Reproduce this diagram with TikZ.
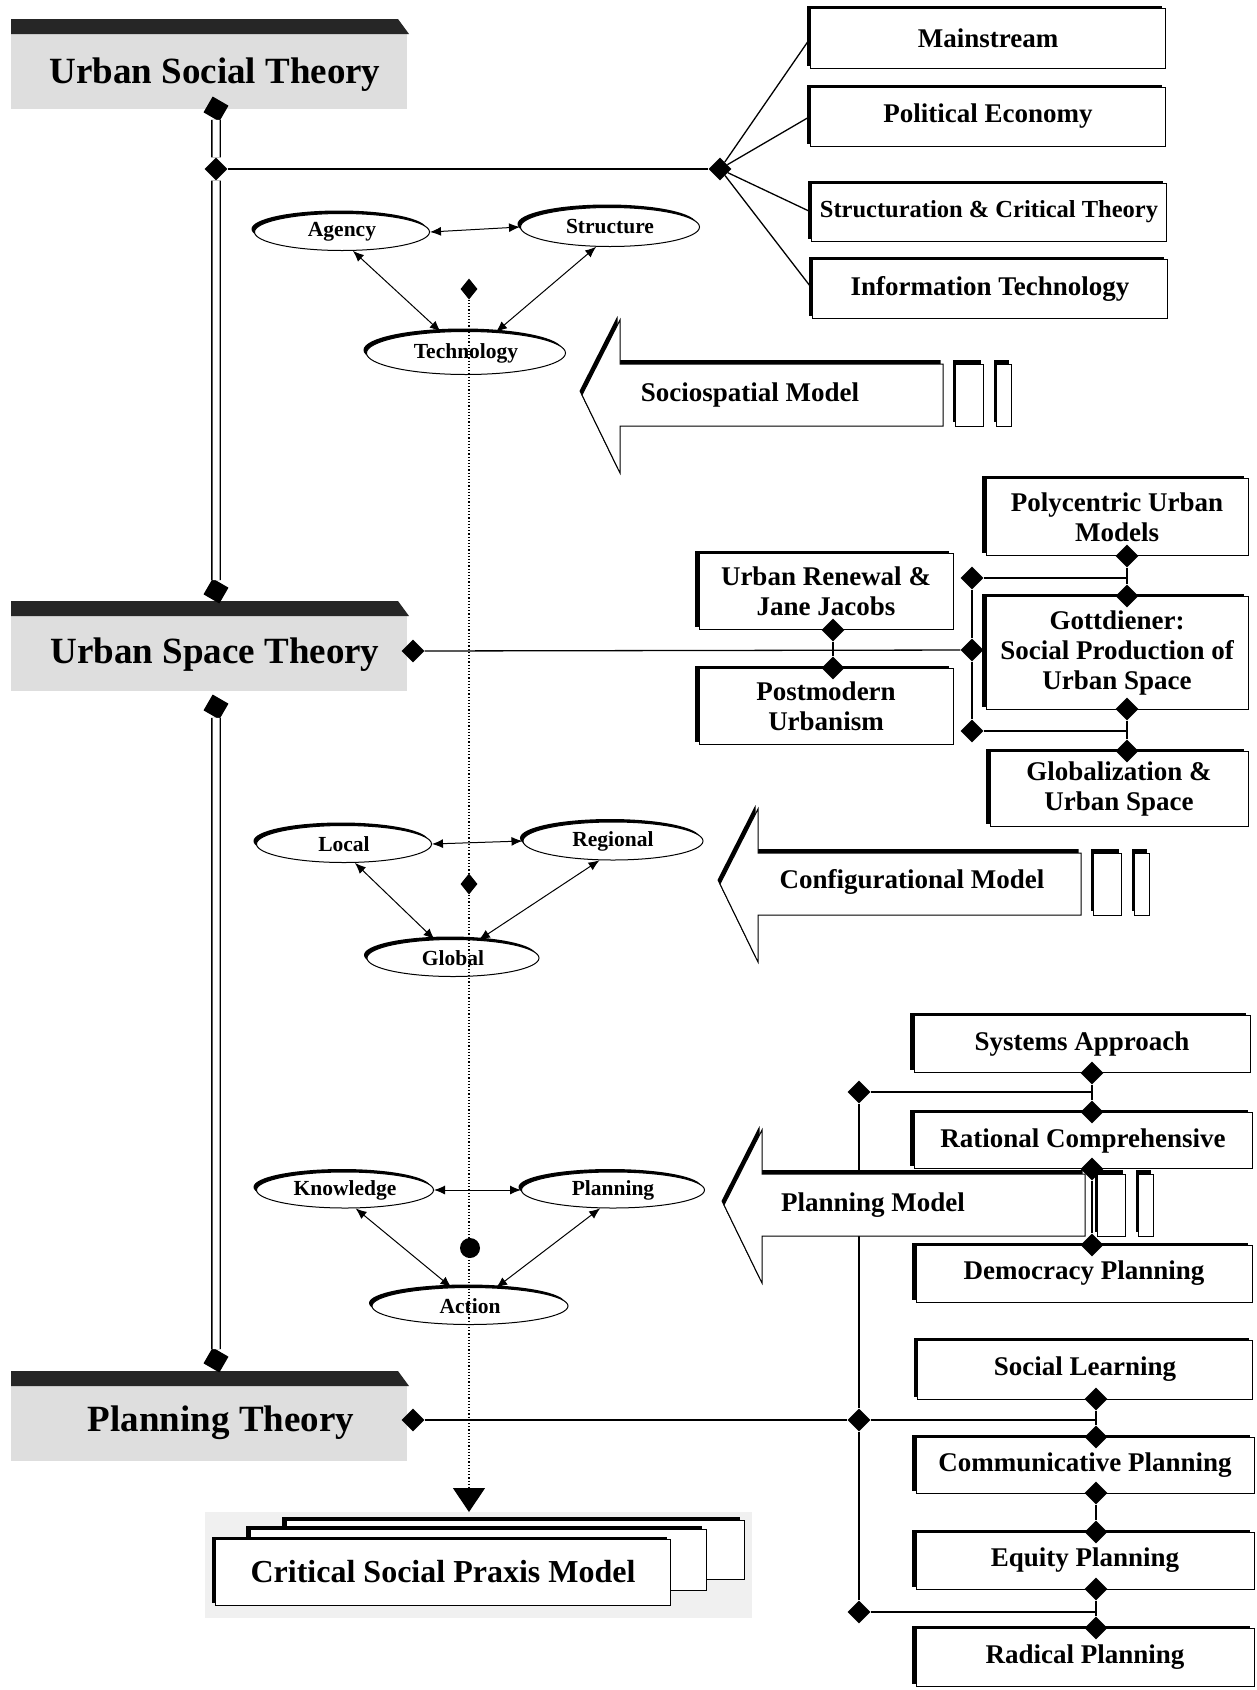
\documentclass[tikz,border=0pt]{standalone}
\usepackage{fontspec}
\setmainfont{Liberation Serif}
\usetikzlibrary{shapes.geometric,shadows,arrows.meta}

\tikzset{
  theory/.style={draw, line width=1pt, fill=white, align=center, inner sep=2pt,
    font=\fontsize{27}{30}\selectfont\bfseries,
    general shadow={fill=black, shadow xshift=-4pt, shadow yshift=2.5pt}},
  theoryback/.style={draw, line width=1pt, fill=white,
    general shadow={fill=black, shadow xshift=-4pt, shadow yshift=3pt}},
  oval/.style={ellipse, draw, line width=1pt, fill=white, inner sep=0pt,
    font=\fontsize{21.5}{24}\selectfont\bfseries,
    general shadow={fill=black, shadow xshift=-3pt, shadow yshift=3pt}},
  dia/.style={diamond, fill=black, inner sep=0pt, minimum size=23pt},
  smalldia/.style={diamond, fill=black, inner sep=0pt, minimum width=17pt, minimum height=21pt},
  link/.style={line width=1.3pt},
  spine/.style={double, double distance=7pt, line width=1.3pt},
  twoway/.style={line width=1pt, {Latex[length=11pt,width=9pt]}-{Latex[length=11pt,width=9pt]}},
  bannertext/.style={font=\fontsize{37}{40}\selectfont\bfseries},
  modelarrow/.style={draw, line width=1pt, fill=white,
    general shadow={fill=black, shadow xshift=-2.5pt, shadow yshift=4pt}},
  modeltext/.style={font=\fontsize{27}{30}\selectfont\bfseries},
}

\begin{document}
\begin{tikzpicture}[x=1pt,y=-1pt]
  \useasboundingbox (0,0) rectangle (1257,1690);

  % theory banners
  \foreach \t in {19,601,1371} {
    \fill[black!13] (11,\t+15) rectangle (407,\t+90);
    \fill[black!85] (11,\t) -- (398,\t) -- (409,\t+15) -- (11,\t+15) -- cycle;
  }
  \node[bannertext] (ust) at (215,75) {Urban Social Theory};
  \node[bannertext] (uspt) at (215,655) {Urban Space Theory};
  \node[bannertext] (pt) at (221,1423) {Planning Theory};

  % spine
  \node[dia, rotate=15, minimum size=26pt] (d1) at (216,109) {};
  \node[dia] (d2) at (216,169) {};
  \node[dia, rotate=15, minimum size=26pt] (d3) at (216,591) {};
  \node[dia, rotate=15, minimum size=26pt] (d4) at (216,707) {};
  \node[dia, rotate=15, minimum size=26pt] (d5) at (216,1360) {};
  \draw[spine] (d1) -- (d2);
  \draw[spine] (d2) -- (d3);
  \draw[spine] (d4) -- (d5);

  % urban social theory branches
  \node[dia] (hub) at (720,169) {};
  \node[theory, minimum width=355pt, minimum height=60pt] (ms) at (988,38.5) {Mainstream};
  \node[theory, minimum width=355pt, minimum height=59pt] (pe) at (988,116.5) {Political Economy};
  \node[theory, minimum width=355pt, minimum height=58pt, font=\fontsize{24.5}{28}\selectfont\bfseries] (sct) at (989,212) {Structuration \& Critical Theory};
  \node[theory, minimum width=355pt, minimum height=59pt] (it) at (990,288.5) {Information Technology};
  \draw[link] (d2) -- (hub);
  \foreach \b in {ms,pe,sct,it}
    \draw[link] (hub) -- (\b.west);

  % agency / structure / technology
  \node[oval, minimum width=175pt, minimum height=37pt] (ag) at (342,232) {Agency};
  \node[oval, minimum width=179pt, minimum height=39pt] (st) at (610,227) {Structure};
  \node[oval, minimum width=199pt, minimum height=43pt] (te) at (466,353) {Technology};
  \draw[twoway] (ag.east) -- (st.west);
  \draw[twoway] (ag.-60) -- (te.140);
  \draw[twoway] (st.-125) -- (te.35);
  \node[smalldia] (tdia) at (469,289) {};

  % urban space theory branches
  \node[dia] (usd) at (413,651) {};
  \node[theory, minimum width=254pt, minimum height=76pt] (ur) at (826,591.5) {Urban Renewal \&\\Jane Jacobs};
  \node[theory, minimum width=254pt, minimum height=76pt] (pm) at (826,706) {Postmodern\\Urbanism};
  \node[theory, minimum width=262pt, minimum height=77pt] (pc) at (1117,517) {Polycentric Urban\\Models};
  \node[theory, minimum width=262pt, minimum height=113pt] (go) at (1117,653) {Gottdiener:\\Social Production of\\Urban Space};
  \node[theory, minimum width=258pt, minimum height=75pt] (gz) at (1119,788.5) {Globalization \&\\Urban Space};
  \node[dia] (urd) at (833,630) {};
  \node[dia] (pmd) at (833,668) {};
  \node[dia] (pcd) at (1127,556) {};
  \node[dia] (gtd) at (1127,596) {};
  \node[dia] (gbd) at (1127,709) {};
  \node[dia] (gzd) at (1127,751) {};
  \node[dia] (bd1) at (972,578) {};
  \node[dia] (bd2) at (972,650) {};
  \node[dia] (bd3) at (972,731) {};
  \draw[link] (usd) -- (bd2);
  \draw[link] (urd) -- (pmd);
  \draw[link] (bd1) -- (bd2);
  \draw[link] (bd2) -- (bd3);
  \draw[link] (pcd) -- (gtd);
  \draw[link] (gbd) -- (gzd);
  \draw[link] (bd1) -- (bd1 -| pcd);
  \draw[link] (bd3) -- (bd3 -| gbd);

  % local / regional / global
  \node[oval, minimum width=175pt, minimum height=37pt] (lo) at (344,844) {Local};
  \node[oval, minimum width=180pt, minimum height=38pt] (re) at (613,841) {Regional};
  \node[oval, minimum width=172pt, minimum height=37pt] (gl) at (453,958) {Global};
  \draw[twoway] (lo.east) -- (re.west);
  \draw[twoway] (lo.-60) -- (gl.135);
  \draw[twoway] (re.-125) -- (gl.35);
  \node[smalldia] (gdia) at (469,884) {};

  % planning theory branches
  \node[dia] (ptd) at (413,1420) {};
  \node[theory, minimum width=336pt, minimum height=57pt] (sa) at (1082,1044) {Systems Approach};
  \node[theory, minimum width=338pt, minimum height=56pt] (rc) at (1083,1140.5) {Rational Comprehensive};
  \node[theory, minimum width=336pt, minimum height=57pt] (dp) at (1084,1273.5) {Democracy Planning};
  \node[theory, minimum width=335pt, minimum height=59pt] (sl) at (1085,1369.5) {Social Learning};
  \node[theory, minimum width=338pt, minimum height=56pt] (cp) at (1085,1465) {Communicative Planning};
  \node[theory, minimum width=338pt, minimum height=57pt] (ep) at (1085,1560.5) {Equity Planning};
  \node[theory, minimum width=338pt, minimum height=58pt] (rp) at (1085,1657) {Radical Planning};
  \node[dia] (sad) at (1092,1073) {};
  \node[dia] (rtd) at (1092,1112) {};
  \node[dia] (rbd) at (1092,1169) {};
  \node[dia] (dtd) at (1092,1245) {};
  \node[dia] (sld) at (1096,1399) {};
  \node[dia] (cpt) at (1096,1437) {};
  \node[dia] (cpb) at (1096,1493) {};
  \node[dia] (ept) at (1096,1532) {};
  \node[dia] (epb) at (1096,1589) {};
  \node[dia] (rpt) at (1096,1628) {};
  \node[dia] (pb1) at (859,1092) {};
  \node[dia] (pb2) at (859,1420) {};
  \node[dia] (pb3) at (859,1612) {};
  \draw[link] (pb1) -- (pb2);
  \draw[link] (pb2) -- (pb3);
  \draw[link] (ptd) -- (pb2);
  \draw[link] (pb1) -- (pb1 -| sad);
  \draw[link] (pb2) -- (pb2 -| sld);
  \draw[link] (pb3) -- (pb3 -| epb);
  \draw[link] (sad) -- (rtd);
  \draw[link] (rbd) -- (dtd);
  \draw[link] (sld) -- (cpt);
  \draw[link] (cpb) -- (ept);
  \draw[link] (epb) -- (rpt);

  % knowledge / planning / action
  \node[oval, minimum width=177pt, minimum height=36pt] (kn) at (345,1190) {Knowledge};
  \node[oval, minimum width=183pt, minimum height=36pt] (pl) at (613,1190) {Planning};
  \node[oval, minimum width=196pt, minimum height=37pt] (ac) at (470,1306) {Action};
  \draw[twoway] (kn.east) -- (pl.west);
  \draw[twoway] (kn.-60) -- (ac.135);
  \draw[twoway] (pl.-125) -- (ac.35);
  \node[circle, fill=black, inner sep=0pt, minimum size=20pt] (dot) at (470,1248) {};

  % model arrows
  \foreach \tx/\ty in {582/395, 720/884, 724/1205} {
    \draw[modelarrow] (\tx,\ty) -- ++(38,-75) -- ++(0,44) -- ++(323,0) -- ++(0,62)
      -- ++(-323,0) -- ++(0,47) -- cycle;
    \draw[modelarrow] (\tx+373,\ty-31) rectangle ++(28,62);
    \draw[modelarrow] (\tx+414,\ty-31) rectangle ++(15,62);
  }
  \node[modeltext] (ssm) at (750,395) {Sociospatial Model};
  \node[modeltext] (cfm) at (912,882) {Configurational Model};
  \node[modeltext] (plm) at (873,1205) {Planning Model};

  % critical social praxis model
  \fill[black!6] (205,1512) rectangle (752,1618);
  \draw[theoryback] (286,1520) rectangle (744,1579);
  \draw[theoryback] (250,1529) rectangle (706,1590);
  \node[theory, minimum width=455pt, minimum height=66pt,
    font=\fontsize{32}{34}\selectfont\bfseries] (csp) at (443,1572) {Critical Social Praxis Model};
  \coordinate (cspin) at (469,1512);
  \draw[dotted, line width=1.2pt, -{Triangle[width=32pt,length=24pt]}] (tdia) -- (cspin);
\end{tikzpicture}
\end{document}
